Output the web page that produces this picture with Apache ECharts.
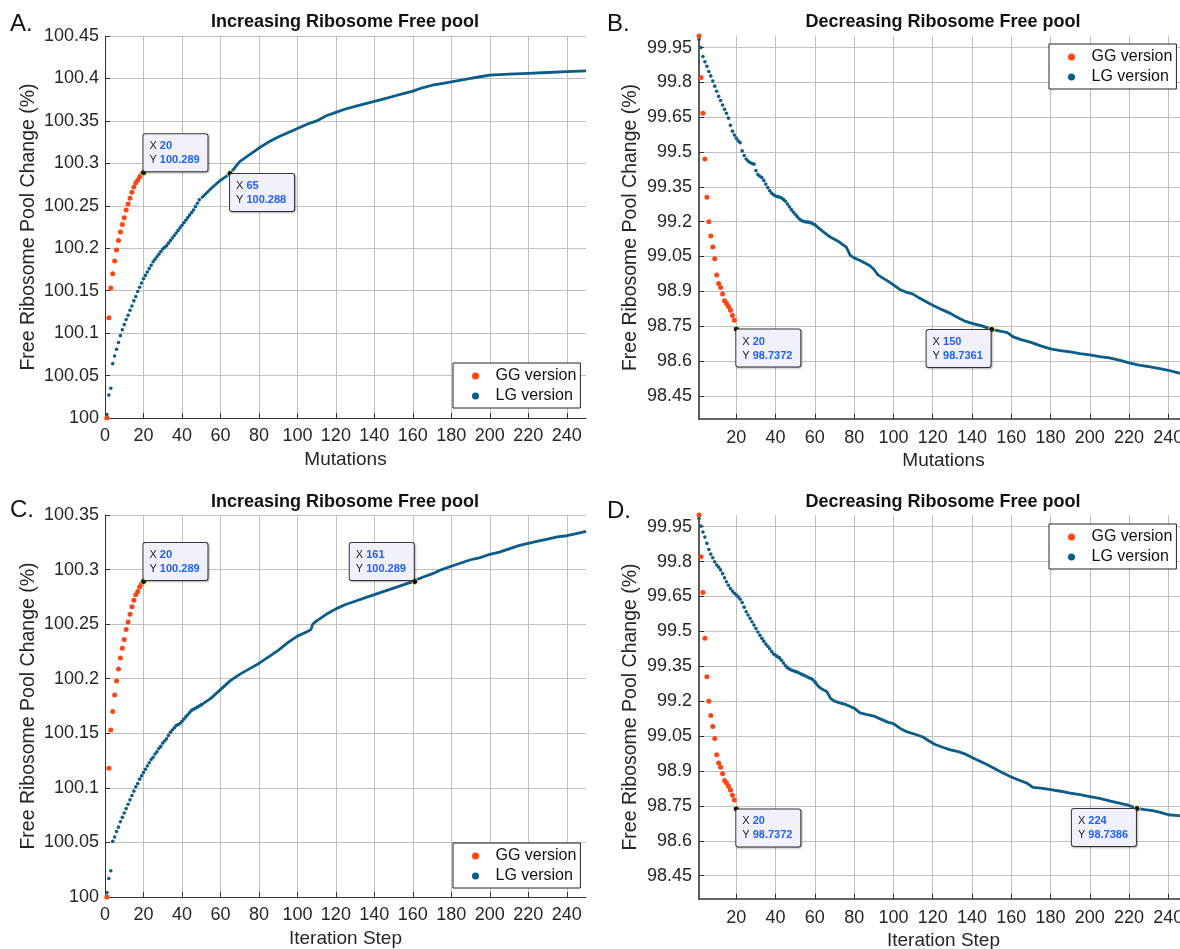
<!DOCTYPE html>
<html>
<head>
<meta charset="utf-8">
<script src="https://cdn.jsdelivr.net/npm/echarts@6.0.0/dist/echarts.min.js"></script>
<style>
html, body { margin: 0; padding: 0; background: #fff; }
#main { width: 1180px; height: 949px; }
</style>
</head>
<body>
<div id="main"></div>
<script>
// iteration / mutation index
var iterSteps = [1,2,3,4,5,6,7,8,9,10,11,12,13,14,15,16,17,18,19,20,
  21,22,23,24,25,26,27,28,29,30,31,32,33,34,35,36,37,38,39,40,
  41,42,43,44,45,46,47,48,49,50,51,52,53,54,55,56,57,58,59,60];

// GG version (same in both rows)
var ggUp = [100.000,100.118,100.153,100.170,100.185,100.198,100.209,100.219,100.228,100.236,
  100.245,100.252,100.259,100.266,100.272,100.277,100.280,100.284,100.287,100.289];
var ggDown = [100.000,99.821,99.667,99.470,99.305,99.200,99.138,99.091,99.040,98.970,
  98.934,98.916,98.888,98.859,98.848,98.835,98.818,98.796,98.775,98.7372];

// A: LG, mutations, increasing
var lgEarlyA = [100.004,100.027,100.035,100.064,100.073,100.081,100.089,100.097,100.104,100.110,
  100.116,100.121,100.127,100.132,100.138,100.143,100.149,100.154,100.159,100.164,
  100.168,100.172,100.176,100.180,100.184,100.187,100.190,100.193,100.196,100.199,
  100.201,100.203,100.206,100.209,100.212,100.215,100.218,100.221,100.224,100.227,
  100.230,100.233,100.236,100.239,100.242,100.245,100.249,100.253,100.257];
var tailStepsA = [50,55,60,65,70,75,80,85,90,95,100,105,110,115,120,125,130,135,140,145,
  150,155,160,165,170,175,180,185,190,195,200,210,220,230,240,250];
var lgTailA = [100.259,100.270,100.280,100.288,100.302,100.310,100.318,100.325,100.331,100.336,
  100.341,100.346,100.350,100.356,100.360,100.364,100.367,100.370,100.373,100.376,
  100.379,100.382,100.385,100.389,100.392,100.394,100.396,100.398,100.400,100.402,
  100.404,100.405,100.406,100.407,100.408,100.409];

// B: LG, mutations, decreasing
var lgEarlyB = [99.985,99.950,99.912,99.889,99.870,99.847,99.828,99.806,99.784,99.762,
  99.740,99.722,99.703,99.684,99.667,99.646,99.615,99.590,99.573,99.560,
  99.548,99.540,99.505,99.485,99.470,99.461,99.455,99.451,99.448,99.420,
  99.403,99.396,99.390,99.378,99.362,99.347,99.333,99.323,99.316,99.311,
  99.308,99.306,99.302,99.296,99.288,99.276,99.264,99.252,99.242,99.232,
  99.222,99.213,99.206,99.202,99.200,99.199,99.198,99.195,99.191,99.187];
var tailStepsB = [60,62,64,66,68,70,72,74,76,77,78,80,83,86,88,90,92,94,97,100,
  103,106,110,113,116,120,125,129,132,136,140,145,150,155,158,161,165,170,175,180,
  185,190,195,200,205,210,215,220,225,230,235,240,245,250];
var lgTailB = [99.186,99.172,99.158,99.145,99.133,99.124,99.115,99.102,99.090,99.082,
  99.055,99.044,99.033,99.020,99.010,98.995,98.972,98.960,98.945,98.928,
  98.909,98.898,98.888,98.872,98.858,98.840,98.820,98.805,98.790,98.773,
  98.762,98.751,98.736,98.728,98.722,98.704,98.692,98.680,98.665,98.652,
  98.645,98.639,98.632,98.626,98.619,98.613,98.604,98.592,98.582,98.576,
  98.568,98.560,98.549,98.542];

// C: LG, iteration step, increasing
var lgEarlyC = [100.004,100.017,100.024,100.051,100.055,100.060,100.064,100.069,100.073,100.077,
  100.081,100.085,100.089,100.093,100.097,100.101,100.104,100.108,100.111,100.114,
  100.117,100.120,100.123,100.126,100.128,100.131,100.133,100.136,100.138,100.141,
  100.143,100.145,100.148,100.151,100.153,100.155,100.157,100.158,100.159,100.161,
  100.163,100.165,100.167,100.169,100.171,100.172,100.173,100.174,100.175,100.176];
var tailStepsC = [50,55,60,65,70,75,80,85,90,95,100,105,107,108,110,115,120,125,130,135,
  140,145,150,155,160,165,170,175,180,185,190,195,200,205,210,215,220,225,230,235,
  240,245,250];
var lgTailC = [100.176,100.182,100.190,100.198,100.204,100.209,100.214,100.220,100.226,100.233,
  100.239,100.243,100.245,100.250,100.253,100.259,100.264,100.268,100.271,100.274,
  100.277,100.280,100.283,100.286,100.289,100.293,100.296,100.300,100.303,100.306,
  100.309,100.311,100.314,100.316,100.319,100.322,100.324,100.326,100.328,100.330,
  100.331,100.333,100.335];

// D: LG, iteration step, decreasing
var lgEarlyD = [99.985,99.952,99.927,99.905,99.878,99.852,99.832,99.816,99.799,99.785,
  99.776,99.764,99.748,99.730,99.713,99.698,99.684,99.673,99.664,99.656,
  99.648,99.638,99.624,99.604,99.584,99.570,99.556,99.541,99.527,99.512,
  99.497,99.483,99.470,99.458,99.446,99.436,99.425,99.413,99.403,99.397,
  99.391,99.386,99.376,99.364,99.352,99.344,99.338,99.334,99.331,99.328,
  99.325,99.321,99.317,99.313,99.309,99.305,99.301,99.297,99.292,99.283];
var tailStepsD = [60,62,64,66,68,70,73,76,80,83,86,90,93,97,100,104,107,111,115,118,
  121,125,129,133,136,140,143,147,150,155,160,165,168,171,175,180,185,190,195,200,
  205,210,215,220,224,228,232,236,240,245,250];
var lgTailD = [99.283,99.262,99.250,99.242,99.212,99.200,99.192,99.185,99.170,99.150,
  99.143,99.136,99.125,99.110,99.104,99.080,99.068,99.058,99.046,99.030,
  99.015,99.002,98.991,98.983,98.975,98.958,98.946,98.930,98.917,98.895,
  98.874,98.857,98.848,98.830,98.826,98.820,98.813,98.805,98.798,98.790,
  98.782,98.772,98.762,98.752,98.739,98.734,98.730,98.722,98.712,98.708,98.704];

// data tips
var tipsA = [[20, 100.289], [65, 100.288]];
var tipsB = [[20, 98.7372], [150, 98.7361]];
var tipsC = [[20, 100.289], [161, 100.289]];
var tipsD = [[20, 98.7372], [224, 98.7386]];

// tick labels
var xTicksFrom0 = [0,20,40,60,80,100,120,140,160,180,200,220,240];
var xTicksFrom20 = [20,40,60,80,100,120,140,160,180,200,220,240];
var yTicksA = [100,100.05,100.1,100.15,100.2,100.25,100.3,100.35,100.4,100.45];
var yTicksC = [100,100.05,100.1,100.15,100.2,100.25,100.3,100.35];
var yTicksDown = [98.45,98.6,98.75,98.9,99.05,99.2,99.35,99.5,99.65,99.8,99.95];

var FONT = '"Liberation Sans", Arial, Helvetica, sans-serif';
var GG_COLOR = '#ff4514';
var LG_COLOR = '#0b5c87';
var TXT = '#262626';
var TIP_W = 64;

function pairs(xs, ys) {
  return ys.map(function (y, k) { return [xs[k], y]; });
}

var panels = [
  { letter: 'A.', title: 'Increasing Ribosome Free pool', lx: 10, ly: 24, tx: 345, ty: 22,
    grid: { left: 105, top: 36, width: 481, height: 382 },
    xMin: 0, xMax: 250, xTicks: xTicksFrom0, yMin: 100, yMax: 100.45, yTicks: yTicksA,
    xName: 'Mutations', yGap: 66, yMargin: 6, xMargin: 9, axisW: 1,
    legend: { left: 453, top: 363 },
    gg: ggUp, early: lgEarlyA, tailX: tailStepsA, tail: lgTailA, tips: tipsA, sides: ['ur', 'dr'] },
  { letter: 'B.', title: 'Decreasing Ribosome Free pool', lx: 607, ly: 24, tx: 943, ty: 22,
    grid: { left: 699, top: 36, width: 489, height: 383 },
    xMin: 1, xMax: 250, xTicks: xTicksFrom20, yMin: 98.35, yMax: 100, yTicks: yTicksDown,
    xName: 'Mutations', yGap: 58, yMargin: 7, xMargin: 10, axisW: 1.6,
    legend: { left: 1049, top: 44 },
    gg: ggDown, early: lgEarlyB, tailX: tailStepsB, tail: lgTailB, tips: tipsB, sides: ['dr', 'dl'] },
  { letter: 'C.', title: 'Increasing Ribosome Free pool', lx: 10, ly: 510, tx: 345, ty: 502,
    grid: { left: 105, top: 515, width: 481, height: 382 },
    xMin: 0, xMax: 250, xTicks: xTicksFrom0, yMin: 100, yMax: 100.35, yTicks: yTicksC,
    xName: 'Iteration Step', yGap: 66, yMargin: 6, xMargin: 9, axisW: 1,
    legend: { left: 453, top: 843 },
    gg: ggUp, early: lgEarlyC, tailX: tailStepsC, tail: lgTailC, tips: tipsC, sides: ['ur', 'ul'] },
  { letter: 'D.', title: 'Decreasing Ribosome Free pool', lx: 607, ly: 511, tx: 943, ty: 502,
    grid: { left: 699, top: 515, width: 489, height: 384 },
    xMin: 1, xMax: 250, xTicks: xTicksFrom20, yMin: 98.35, yMax: 100, yTicks: yTicksDown,
    xName: 'Iteration Step', yGap: 58, yMargin: 7, xMargin: 10, axisW: 1.6,
    legend: { left: 1049, top: 524 },
    gg: ggDown, early: lgEarlyD, tailX: tailStepsD, tail: lgTailD, tips: tipsD, sides: ['dr', 'dl'] }
];

// label box anchor relative to the 6px marker box
var sidePos = {
  ur: { position: [3.5, 2], verticalAlign: 'bottom' },
  dr: { position: [3.5, 4], verticalAlign: 'top' },
  dl: { position: [2.5 - TIP_W, 4], verticalAlign: 'top' },
  ul: { position: [2.5 - TIP_W, 2], verticalAlign: 'bottom' }
};

function fmt(v) { return String(+(+v).toFixed(4)); }

var option = {
  animation: false,
  backgroundColor: '#fff',
  grid: [], xAxis: [], yAxis: [], legend: [], series: [], graphic: []
};

panels.forEach(function (p, i) {
  option.grid.push(Object.assign({ outerBoundsMode: 'none', containLabel: false }, p.grid));

  option.xAxis.push({
    gridIndex: i, type: 'value', min: p.xMin, max: p.xMax,
    name: p.xName, nameLocation: 'middle', nameGap: 32,
    nameTextStyle: { fontSize: 19, color: TXT, fontFamily: FONT },
    axisLine: { show: true, onZero: false, lineStyle: { color: '#333', width: p.axisW } },
    axisTick: { show: true, inside: true, length: 5, customValues: p.xTicks, lineStyle: { color: '#333' } },
    axisLabel: { customValues: p.xTicks, fontSize: 18, color: TXT, fontFamily: FONT, margin: p.xMargin, formatter: fmt },
    splitLine: { show: true, lineStyle: { color: '#bfbfbf', width: 1 } }
  });

  option.yAxis.push({
    gridIndex: i, type: 'value', min: p.yMin, max: p.yMax,
    name: 'Free Ribosome Pool Change (%)', nameLocation: 'middle', nameGap: p.yGap,
    nameTextStyle: { fontSize: 19.5, color: TXT, fontFamily: FONT },
    axisLine: { show: true, onZero: false, lineStyle: { color: '#333', width: p.axisW } },
    axisTick: { show: true, inside: true, length: 5, customValues: p.yTicks, lineStyle: { color: '#333' } },
    axisLabel: { customValues: p.yTicks, fontSize: 18, color: TXT, fontFamily: FONT, margin: p.yMargin, formatter: fmt },
    splitLine: { show: true, lineStyle: { color: '#bfbfbf', width: 1 } }
  });

  option.legend.push({
    data: ['GG version', 'LG version'], orient: 'vertical',
    left: p.legend.left, top: p.legend.top, selectedMode: false,
    icon: 'circle', itemWidth: 30, itemHeight: 7, itemGap: 4,
    padding: [5, 4, 4, 19], borderColor: '#222', borderWidth: 1, backgroundColor: '#fff',
    textStyle: { fontSize: 16, lineHeight: 16, color: '#111', fontFamily: FONT }
  });

  option.series.push({
    type: 'line', name: 'LG version', xAxisIndex: i, yAxisIndex: i,
    data: pairs(p.tailX, p.tail), showSymbol: false, clip: false,
    lineStyle: { color: LG_COLOR, width: 2.8 }, itemStyle: { color: LG_COLOR }, z: 2
  });
  option.series.push({
    type: 'scatter', name: 'LG version', xAxisIndex: i, yAxisIndex: i,
    data: pairs(iterSteps, p.early), symbolSize: 3.6, clip: false,
    itemStyle: { color: LG_COLOR, opacity: 1 }, z: 3
  });
  option.series.push({
    type: 'scatter', name: 'GG version', xAxisIndex: i, yAxisIndex: i,
    data: pairs(iterSteps, p.gg), symbolSize: 5, clip: false,
    itemStyle: { color: GG_COLOR, opacity: 1 }, z: 4
  });
  option.series.push({
    type: 'scatter', name: 'tip' + i, xAxisIndex: i, yAxisIndex: i, clip: false, z: 10,
    symbolSize: 6,
    itemStyle: { color: '#111', borderColor: '#f2ec6a', borderWidth: 1, opacity: 1 },
    data: p.tips.map(function (t, k) {
      var s = sidePos[p.sides[k]];
      return { value: t, label: { position: s.position, align: 'left', verticalAlign: s.verticalAlign } };
    }),
    label: {
      show: true, fontSize: 11, fontFamily: FONT, width: TIP_W - 12,
      backgroundColor: '#f1f1fd', borderColor: '#3a3a3a', borderWidth: 1, borderRadius: 2,
      padding: [5, 6, 4, 6],
      shadowColor: 'rgba(0,0,0,0.25)', shadowBlur: 2, shadowOffsetX: 1, shadowOffsetY: 1,
      formatter: function (d) {
        return '{k|X} {v|' + d.value[0] + '}\n{k|Y} {v|' + d.value[1] + '}';
      },
      rich: {
        k: { fontSize: 11, lineHeight: 14, color: '#222', fontFamily: FONT },
        v: { fontSize: 11, lineHeight: 14, color: '#1f5fff', fontWeight: 'bold', fontFamily: FONT }
      }
    },
    emphasis: { disabled: true }
  });

  option.graphic.push({
    type: 'text', x: p.lx, y: p.ly,
    style: { text: p.letter, font: '24px ' + FONT, fill: '#111',
      align: 'left', verticalAlign: 'middle', textAlign: 'left', textVerticalAlign: 'middle' }
  });
  option.graphic.push({
    type: 'text', x: p.tx, y: p.ty,
    style: { text: p.title, font: 'bold 18px ' + FONT, fill: '#111',
      align: 'center', verticalAlign: 'middle', textAlign: 'center', textVerticalAlign: 'middle' }
  });
});

var chart = echarts.init(document.getElementById('main'));
chart.setOption(option);
</script>
</body>
</html>
